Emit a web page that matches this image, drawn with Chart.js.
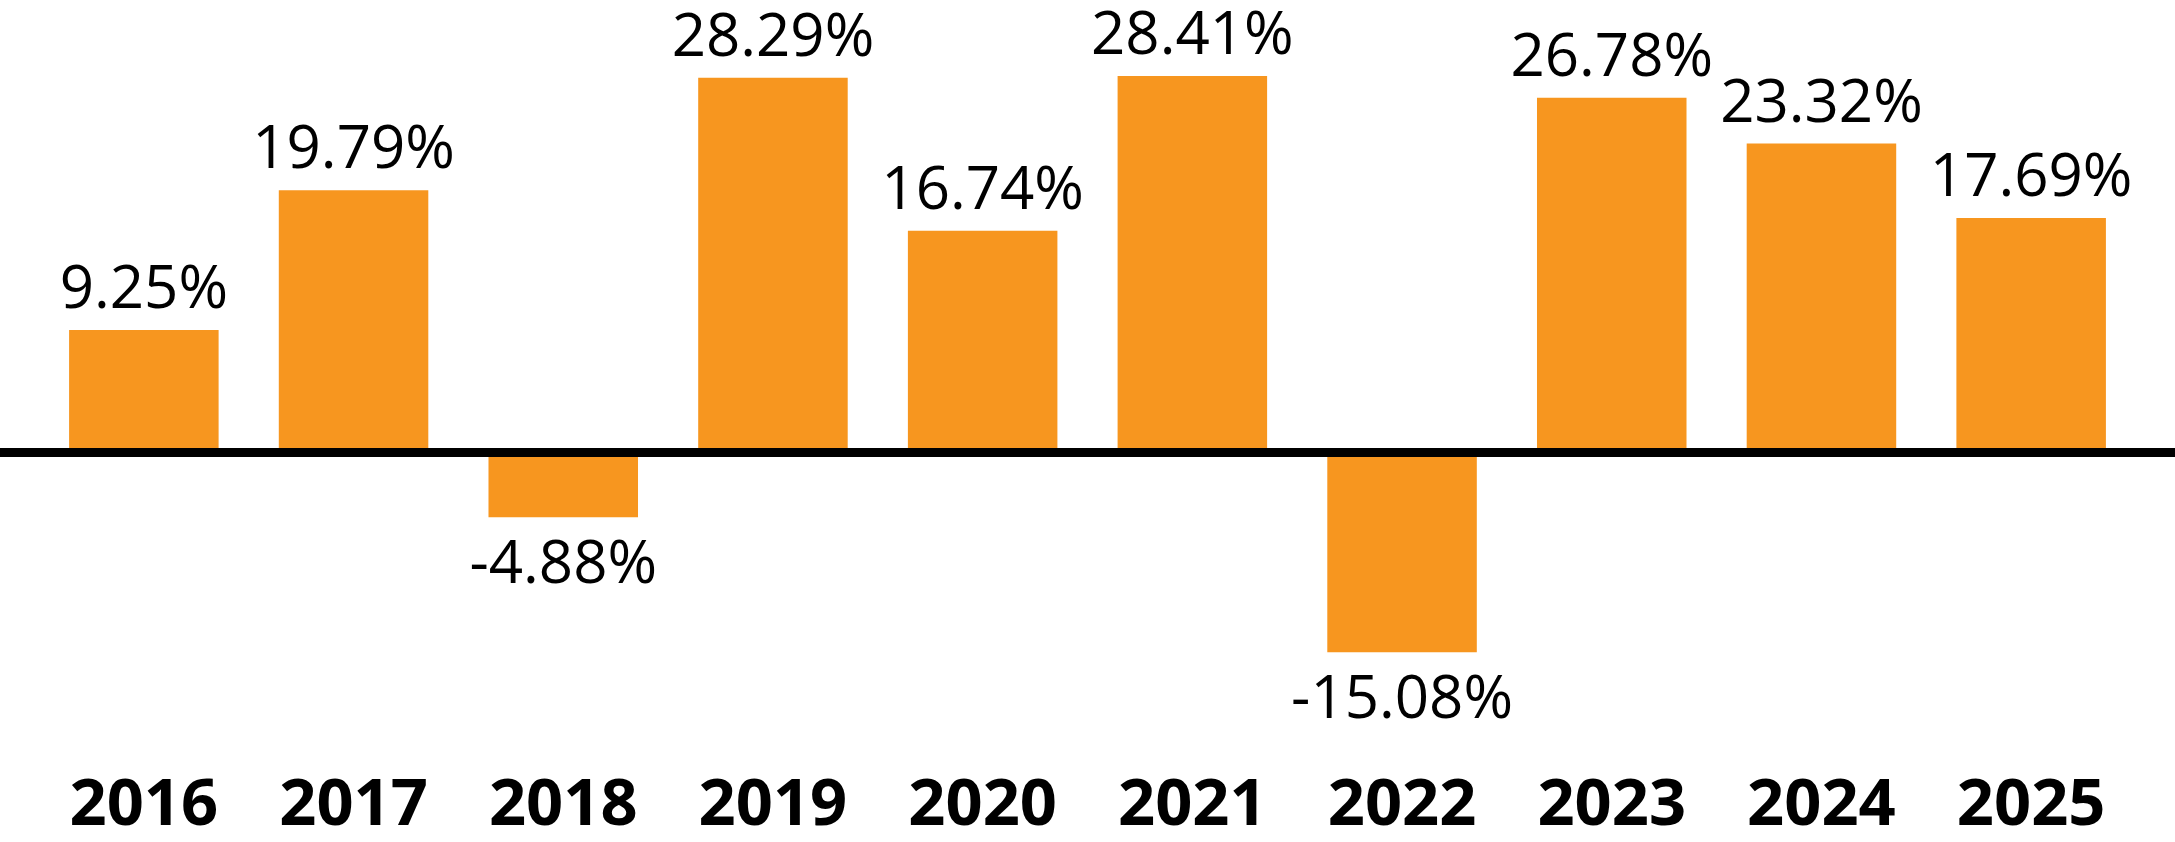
<!DOCTYPE html>
<html>
<head>
<meta charset="utf-8">
<script src="https://cdn.jsdelivr.net/npm/chart.js@4/dist/chart.umd.min.js"></script>
<style>
    html, body { margin: 0; padding: 0; background: #fff; }
    #wrap { width: 2175px; height: 842px; position: relative; }
</style>
</head>
<body>
<div id="wrap"><canvas id="returnsChart"></canvas></div>
<script>
const years = ['2016', '2017', '2018', '2019', '2020', '2021', '2022', '2023', '2024', '2025'];
const returns = [9.25, 19.79, -4.88, 28.29, 16.74, 28.41, -15.08, 26.78, 23.32, 17.69];

const barColor = '#F7961F';
const fontFamily = '"Open Sans", "Noto Sans", sans-serif';

// value labels above / below each bar
const valueLabels = {
    id: 'valueLabels',
    afterDatasetsDraw(chart) {
        const ctx = chart.ctx;
        const size = 60;
        const meta = chart.getDatasetMeta(0);
        ctx.save();
        ctx.font = `400 ${size}px ${fontFamily}`;
        ctx.fillStyle = '#000';
        ctx.textAlign = 'center';
        ctx.textBaseline = 'alphabetic';
        meta.data.forEach((bar, i) => {
            const v = returns[i];
            const text = v.toFixed(2) + '%';
            const y = v >= 0 ? bar.y - 22 : bar.y + 23 + size * 0.714;
            ctx.fillText(text, bar.x, y);
        });
        ctx.restore();
    }
};

// thick zero line across the whole width
const zeroLine = {
    id: 'zeroLine',
    afterDatasetsDraw(chart) {
        const ctx = chart.ctx;
        const y = chart.scales.y.getPixelForValue(0);
        ctx.save();
        ctx.strokeStyle = '#000';
        ctx.lineWidth = 9;
        ctx.beginPath();
        ctx.moveTo(0, y);
        ctx.lineTo(chart.width, y);
        ctx.stroke();
        ctx.restore();
    }
};

const ctx = document.getElementById('returnsChart').getContext('2d');
new Chart(ctx, {
    type: 'bar',
    data: {
        labels: years,
        datasets: [{
            data: returns,
            backgroundColor: barColor,
            borderWidth: 0,
            categoryPercentage: 1,
            barPercentage: 0.713
        }]
    },
    options: {
        responsive: true,
        maintainAspectRatio: false,
        animation: false,
        devicePixelRatio: 1,
        layout: {
            padding: { top: 55, left: 39, right: 39, bottom: 0 }
        },
        plugins: {
            legend: { display: false },
            tooltip: { enabled: false }
        },
        scales: {
            x: {
                grid: { display: false, drawTicks: false },
                border: { display: false },
                ticks: {
                    color: '#000',
                    padding: 50,
                    font: { family: fontFamily, size: 65, weight: 'bold' }
                },
                afterFit(axis) {
                    axis.height = 124.5;
                }
            },
            y: {
                display: false,
                min: -20,
                max: 30
            }
        }
    },
    plugins: [valueLabels, zeroLine]
});
</script>
</body>
</html>
